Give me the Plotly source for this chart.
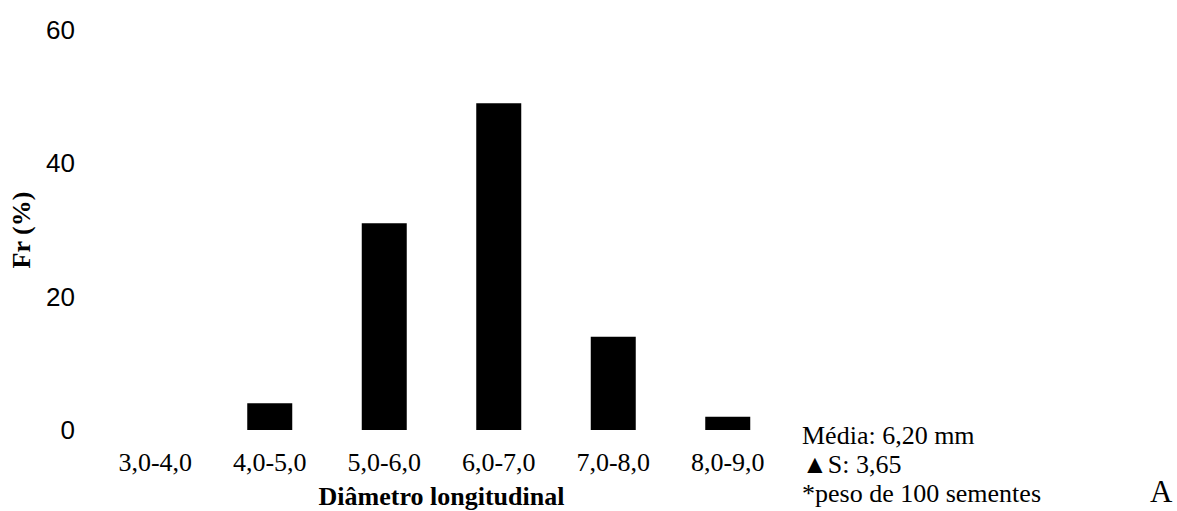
import plotly.graph_objects as go

categories = ["3,0-4,0", "4,0-5,0", "5,0-6,0", "6,0-7,0", "7,0-8,0", "8,0-9,0"]
frequencies = [0, 4, 31, 49, 14, 2]
y_ticks = [0, 20, 40, 60]
notes = ["Média: 6,20 mm", "▲S: 3,65", "*peso de 100 sementes"]
panel_label = "A"

SERIF = "Liberation Serif"
SANS = "Liberation Sans"

fig = go.Figure()
fig.add_trace(go.Bar(
    x=categories,
    y=frequencies,
    marker=dict(color="#000000", line=dict(width=0)),
    hoverinfo="x+y",
))

L, R, T, B = 98, 392, 30, 81
W, H = 1177, 511
pw = W - L - R
ph = H - T - B

def px_x(px):
    return (px - L) / pw

def px_y(py):
    return (H - B - py) / ph

annotations = []
note_y = [435, 464, 493]
for txt, py in zip(notes, note_y):
    annotations.append(dict(
        text=txt, xref="paper", yref="paper", x=px_x(800), y=px_y(py),
        xanchor="left", yanchor="middle", showarrow=False,
        font=dict(family=SERIF, size=26, color="#000000"),
    ))
annotations.append(dict(
    text=panel_label, xref="paper", yref="paper", x=px_x(1161), y=px_y(491),
    xanchor="center", yanchor="middle", showarrow=False,
    font=dict(family=SERIF, size=31, color="#000000"),
))

fig.update_layout(
    width=W, height=H,
    margin=dict(l=L, r=R, t=T, b=B, pad=0),
    paper_bgcolor="#ffffff",
    plot_bgcolor="#ffffff",
    bargap=0.607,
    showlegend=False,
    annotations=annotations,
    xaxis=dict(
        type="category",
        range=[-0.5, 5.5],
        showline=False, showgrid=False, zeroline=False, ticks="",
        tickfont=dict(family=SERIF, size=26, color="#000000"),
        ticklabelstandoff=14,
        title=dict(text="<b>Diâmetro longitudinal</b>",
                   font=dict(family=SERIF, size=26, color="#000000"),
                   standoff=11),
        automargin=False,
    ),
    yaxis=dict(
        range=[0, 60],
        tickvals=y_ticks,
        showline=False, showgrid=False, zeroline=False, ticks="",
        tickfont=dict(family=SANS, size=26, color="#000000"),
        ticklabelstandoff=22,
        title=dict(text="<b>Fr (%)</b>",
                   font=dict(family=SERIF, size=26, color="#000000"),
                   standoff=7),
        automargin=False,
    ),
)

fig.write_html("out.html")
